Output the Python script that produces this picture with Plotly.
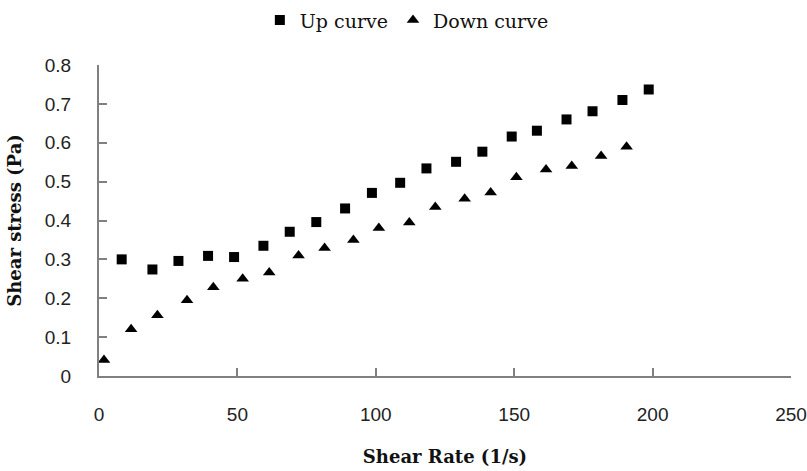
import plotly.graph_objects as go

up_rate = [8.2, 19.3, 28.7, 39.4, 48.8, 59.4, 68.9, 78.5, 88.9, 98.6,
           108.8, 118.3, 129.0, 138.5, 149.1, 158.2, 168.9, 178.3, 189.1, 198.6]
up_stress = [0.300, 0.274, 0.296, 0.309, 0.306, 0.335, 0.371, 0.396, 0.431, 0.471,
             0.497, 0.534, 0.551, 0.577, 0.616, 0.631, 0.660, 0.681, 0.710, 0.737]

down_rate = [1.8, 11.6, 21.1, 31.8, 41.3, 51.9, 61.5, 72.1, 81.5, 91.9, 101.1,
             112.1, 121.5, 132.1, 141.5, 150.8, 161.5, 170.8, 181.4, 190.6]
down_stress = [0.041, 0.120, 0.156, 0.195, 0.228, 0.250, 0.266, 0.310, 0.329, 0.350, 0.381,
               0.395, 0.435, 0.456, 0.472, 0.511, 0.531, 0.540, 0.566, 0.590]

x_ticks = [0, 50, 100, 150, 200, 250]
y_ticks = [0, 0.1, 0.2, 0.3, 0.4, 0.5, 0.6, 0.7, 0.8]
y_tick_text = ["0", "0.1", "0.2", "0.3", "0.4", "0.5", "0.6", "0.7", "0.8"]

fig = go.Figure()
fig.add_trace(go.Scatter(x=up_rate, y=up_stress, mode="markers", name="Up curve",
                         marker=dict(symbol="square", size=10, color="black")))
fig.add_trace(go.Scatter(x=down_rate, y=down_stress, mode="markers", name="Down curve",
                         marker=dict(symbol="triangle-up", size=11, color="black")))

tick_font = dict(family="Liberation Sans", size=19, color="#222")
title_font = dict(family="DejaVu Serif", size=18, color="#111")
line_col = "#808080"

fig.update_layout(
    width=807, height=471,
    margin=dict(l=99, r=16, t=65, b=95),
    paper_bgcolor="white", plot_bgcolor="white",
    showlegend=True,
    legend=dict(orientation="h", x=0.322, xanchor="left", xref="container",
                y=0.957, yanchor="middle", yref="container",
                font=dict(family="DejaVu Serif", size=19, color="#111"),
                itemwidth=30, bgcolor="rgba(0,0,0,0)"),
    xaxis=dict(range=[0, 250], tickvals=x_ticks, showgrid=False, zeroline=False,
               automargin=False,
               showline=True, linecolor=line_col, linewidth=2,
               ticks="inside", ticklen=8, tickcolor=line_col, tickwidth=2,
               tickfont=tick_font, ticklabelstandoff=20, ticklabeloverflow="allow",
               title=dict(text="<b>Shear Rate (1/s)</b>", font=title_font, standoff=27)),
    yaxis=dict(range=[0, 0.8], tickvals=y_ticks, ticktext=y_tick_text, showgrid=False, zeroline=False,
               automargin=False,
               showline=True, linecolor=line_col, linewidth=2,
               ticks="inside", ticklen=8, tickcolor=line_col, tickwidth=2,
               tickfont=tick_font, ticklabelstandoff=22,
               title=dict(text="<b>Shear stress (Pa)</b>", font=title_font, standoff=18)),
)

fig.write_html("out.html", config={"displayModeBar": False},
               post_script="document.body.style.margin='0';")
